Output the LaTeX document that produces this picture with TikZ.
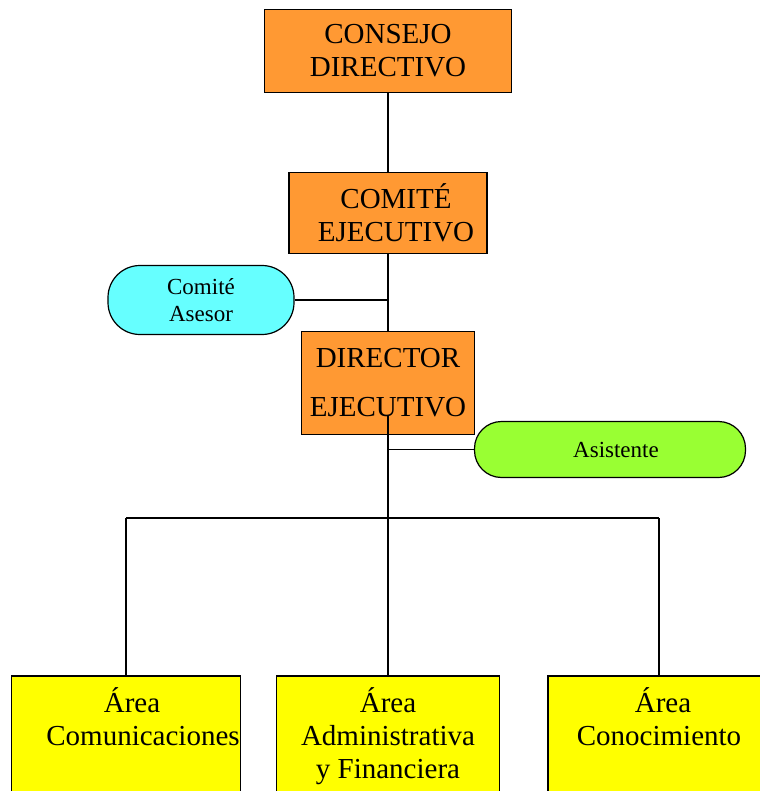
\documentclass[tikz,border=0pt]{standalone}
\usepackage{fontspec}
\setmainfont{Liberation Serif}

\definecolor{orgorange}{RGB}{255,153,51}
\definecolor{asesorcyan}{RGB}{102,255,255}
\definecolor{asistgreen}{RGB}{153,255,51}
\definecolor{areayellow}{RGB}{255,255,0}

\begin{document}
\begin{tikzpicture}[
            x=1pt, y=-1pt, line width=1.2pt,
            orgbox/.style={draw, fill=orgorange, inner sep=0pt, align=center,
                font=\fontsize{29}{33}\selectfont},
            ovalbox/.style={draw, inner sep=0pt, align=center,
                font=\fontsize{23}{27}\selectfont},
            areabox/.style={draw, fill=areayellow, inner sep=0pt, align=center,
                minimum height=124pt, font=\fontsize{29}{33}\selectfont},
    ]
    \useasboundingbox (0,0) rectangle (759,791);

    \node[orgbox, minimum width=247pt, minimum height=83pt] (consejo) at (388,51) {CONSEJO\\DIRECTIVO};
    \node[orgbox, minimum width=198pt, minimum height=81pt] (comite) at (388,213) {\hspace*{16pt}COMITÉ\\\hspace*{16pt}EJECUTIVO};
    \node[orgbox, minimum width=173pt, minimum height=103pt, font=\fontsize{29}{49}\selectfont] (director) at (388,383) {DIRECTOR\\EJECUTIVO};

    \node[ovalbox, fill=asesorcyan, rounded corners=32pt, minimum width=186pt, minimum height=69pt] (asesor) at (201,300) {Comité\\Asesor};
    \node[ovalbox, fill=asistgreen, rounded corners=27pt, minimum width=271pt, minimum height=56pt] (asistente) at (610,449.5) {\hspace*{12pt}Asistente};

    \node[areabox, minimum width=229pt] (comu) at (126,738) {\hspace*{12pt}Área\\\hspace*{34pt}Comunicaciones\\\strut};
    \node[areabox, minimum width=223pt] (admin) at (388,738) {Área\\Administrativa\\y Financiera\strut};
    \node[areabox, minimum width=222pt] (cono) at (659,738) {\hspace*{8pt}Área\\Conocimiento\\\strut};

    \coordinate (dirbase) at (388,415);
    \coordinate (hub) at (388,518);

    \draw (consejo) -- (comite);
    \draw (comite) -- (director);
    \draw (asesor.east) -- (asesor.east -| comite.south);

    \draw (dirbase) -- (hub);
    \draw (asistente.west) -- (asistente.west -| hub);

    \draw (comu.north |- hub) -- (cono.north |- hub);
    \draw (comu.north |- hub) -- (comu.north);
    \draw (hub) -- (admin.north);
    \draw (cono.north |- hub) -- (cono.north);
    \end{tikzpicture}
\end{document}
